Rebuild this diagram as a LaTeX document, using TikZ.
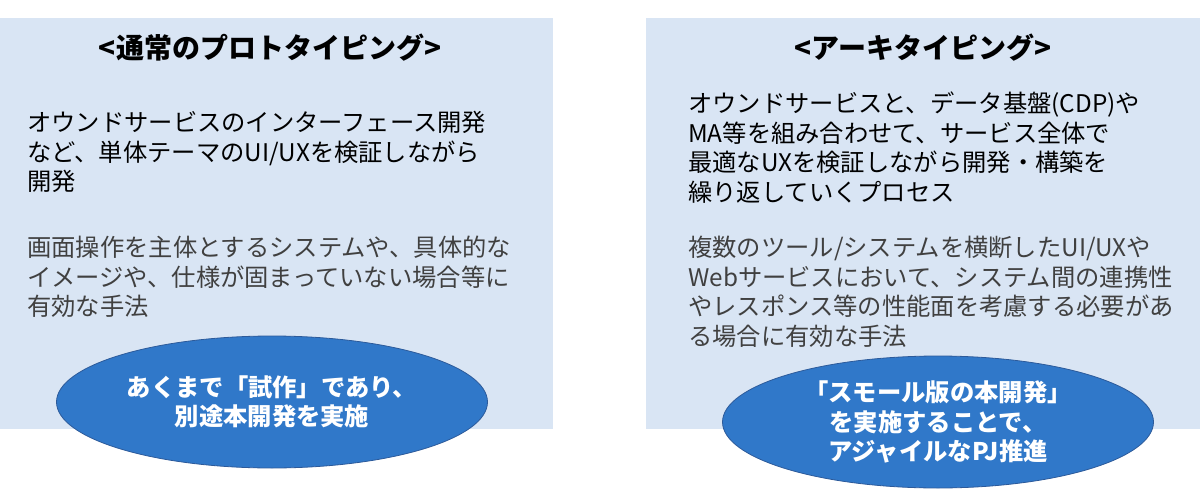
\documentclass[tikz,border=0pt]{standalone}
\usepackage{fontspec}
\setmainfont{Noto Sans CJK JP}
\usetikzlibrary{shapes.geometric}
\definecolor{panelblue}{HTML}{D9E5F4}
\definecolor{ovalblue}{HTML}{3078C9}
\definecolor{ovaledge}{HTML}{2C5A9A}
\definecolor{bodygray}{HTML}{404040}

\begin{document}
\begin{tikzpicture}[x=1pt,y=-1pt,
    panel/.style={fill=panelblue},
    heading/.style={font=\fontsize{28}{34}\selectfont\bfseries,inner sep=0pt},
    body/.style={font=\fontsize{24.3}{29.5}\selectfont,align=left,anchor=north west,inner sep=0pt},
    oval/.style={ellipse,draw=ovaledge,line width=0.8pt,fill=ovalblue,text=white,
        font=\fontsize{24.3}{29.5}\selectfont\bfseries,align=center,inner sep=0pt,
        minimum width=431pt,minimum height=132pt}]
        \useasboundingbox (0,0) rectangle (1200,490);
        \fill[panel] (0,18) rectangle (553,429);
        \fill[panel] (646,18) rectangle (1200,429);
        % left: usual prototyping
        \node[heading] (prototitle) at (270,47.5) {<通常のプロトタイピング>};
        \node[body] (protoabout) at (27,111) {オウンドサービスのインターフェース開発\\など、単体テーマのUI/UXを検証しながら\\開発};
        \node[body,text=bodygray] (protouse) at (27,236) {画面操作を主体とするシステムや、具体的な\\イメージや、仕様が固まっていない場合等に\\有効な手法};
        \node[oval] (protonote) at (272,402) {あくまで「試作」であり、\\別途本開発を実施};
        % right: archetyping
        \node[heading] (archtitle) at (923,47.5) {<アーキタイピング>};
        \node[body] (archabout) at (688,92) {オウンドサービスと、データ基盤(CDP)や\\MA等を組み合わせて、サービス全体で\\最適なUXを検証しながら開発・構築を\\繰り返していくプロセス};
        \node[body,text=bodygray] (archuse) at (688,236) {複数のツール/システムを横断したUI/UXや\\Webサービスにおいて、システム間の連携性\\やレスポンス等の性能面を考慮する必要があ\\る場合に有効な手法};
        \node[oval] (archnote) at (938,422) {「スモール版の本開発」\\を実施することで、\\アジャイルなPJ推進};
    \end{tikzpicture}
\end{document}
